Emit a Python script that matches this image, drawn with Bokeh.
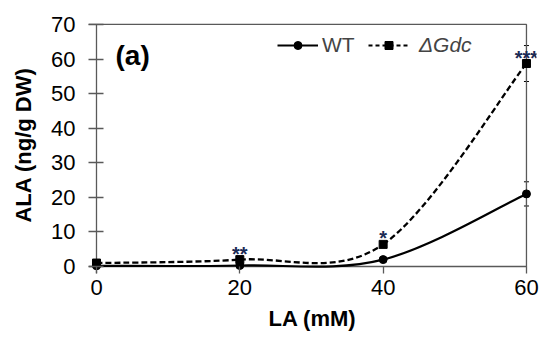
from bokeh.plotting import figure
from bokeh.models import (Range1d, FixedTicker, Legend, LegendItem, Label,
                          Whisker, ColumnDataSource, TeeHead)
from bokeh.core.properties import value
from bokeh.embed import file_html
from bokeh.resources import INLINE

# ---- data ----
la_mm = [0, 20, 40, 60]
wt_ala = [0.2, 0.3, 2.0, 21.0]
gdc_ala = [1.0, 2.0, 6.4, 58.7]
wt_err = [0.1, 0.1, 0.3, 3.5]
gdc_err = [0.3, 0.4, 0.8, 5.2]
sig_marks = ["", "**", "*", "***"]
x_ticks = [0, 20, 40, 60]
y_ticks = [0, 10, 20, 30, 40, 50, 60, 70]

FONT = "Liberation Sans"
X_START, X_END = -1.116, 61.4
Y_START, Y_END = -2.02, 72.3

p = figure(width=542, height=335, output_backend="svg", toolbar_location=None,
           x_range=Range1d(X_START, X_END), y_range=Range1d(Y_START, Y_END),
           min_border_left=88, min_border_right=6, min_border_top=16,
           min_border_bottom=62, outline_line_color=None,
           background_fill_color="white", border_fill_color="white")
p.grid.visible = False

AX = "#595959"
# axes
p.xaxis.ticker = FixedTicker(ticks=x_ticks)
p.yaxis.ticker = FixedTicker(ticks=y_ticks)
for ax in (p.xaxis[0], p.yaxis[0]):
    ax.axis_line_color = None
    ax.major_tick_out = 0
    ax.minor_tick_line_color = None
    ax.major_tick_line_color = AX
    ax.major_tick_line_width = 1.3
    ax.major_label_text_font = FONT
    ax.major_label_text_font_size = "22px"
    ax.major_label_text_color = "black"
    ax.axis_label_text_font = FONT
    ax.axis_label_text_font_style = "bold"
    ax.axis_label_text_color = "black"
p.xaxis.major_tick_in = 7
p.yaxis.major_tick_in = 15
p.xaxis.major_label_standoff = 6
p.yaxis.major_label_standoff = 13
p.xaxis.axis_label = "LA (mM)"
p.yaxis.axis_label = "ALA (ng/g DW)"
p.xaxis.axis_label_text_font_size = "22px"
p.yaxis.axis_label_text_font_size = "22px"
p.xaxis.axis_label_standoff = 8
p.yaxis.axis_label_standoff = 12

# frame lines: top, right, x-axis at y=0; y-axis at x=0
p.multi_line(xs=[[X_START, x_ticks[-1], x_ticks[-1], X_START], [0, 0]],
             ys=[[y_ticks[-1], y_ticks[-1], 0, 0], [y_ticks[-1], Y_START]],
             line_color=AX, line_width=1.3)

# smooth curves (Excel-like Bezier smoothing)
def bezier_ctrl(xs, ys):
    pts = list(zip(xs, ys))
    n = len(pts)
    out = dict(x0=[], y0=[], x1=[], y1=[], cx0=[], cy0=[], cx1=[], cy1=[])
    for i in range(n - 1):
        a = pts[i - 1] if i > 0 else pts[i]
        b = pts[i]
        c = pts[i + 1]
        d = pts[i + 2] if i + 2 < n else pts[i + 1]
        out["x0"].append(b[0]); out["y0"].append(b[1])
        out["x1"].append(c[0]); out["y1"].append(c[1])
        out["cx0"].append(b[0] + (c[0] - a[0]) / 6)
        out["cy0"].append(b[1] + (c[1] - a[1]) / 6)
        out["cx1"].append(c[0] - (d[0] - b[0]) / 6)
        out["cy1"].append(c[1] - (d[1] - b[1]) / 6)
    return out

p.bezier(source=ColumnDataSource(bezier_ctrl(la_mm, wt_ala)),
         x0="x0", y0="y0", x1="x1", y1="y1", cx0="cx0", cy0="cy0",
         cx1="cx1", cy1="cy1", line_color="black", line_width=2.2)
p.bezier(source=ColumnDataSource(bezier_ctrl(la_mm, gdc_ala)),
         x0="x0", y0="y0", x1="x1", y1="y1", cx0="cx0", cy0="cy0",
         cx1="cx1", cy1="cy1", line_color="black", line_width=2.3,
         line_dash="6 3")

src = ColumnDataSource(dict(
    x=la_mm, wt=wt_ala, gdc=gdc_ala,
    wt_lo=[v - e for v, e in zip(wt_ala, wt_err)],
    wt_hi=[v + e for v, e in zip(wt_ala, wt_err)],
    gdc_lo=[v - e for v, e in zip(gdc_ala, gdc_err)],
    gdc_hi=[v + e for v, e in zip(gdc_ala, gdc_err)],
    sig=sig_marks))

for lo, hi in (("wt_lo", "wt_hi"), ("gdc_lo", "gdc_hi")):
    w = Whisker(source=src, base="x", lower=lo, upper=hi, line_color="black",
                line_width=1,
                lower_head=TeeHead(size=5, line_color="black", line_width=1),
                upper_head=TeeHead(size=5, line_color="black", line_width=1))
    p.add_layout(w)

wt_pts = p.scatter("x", "wt", source=src, marker="circle", size=8,
                   color="black")
gdc_pts = p.scatter("x", "gdc", source=src, marker="square", size=8,
                    color="black")

p.text("x", "gdc", text="sig", source=src, text_align="center",
       text_baseline="middle", y_offset=-6, text_font=value(FONT),
       text_font_size="20px", text_font_style="bold", text_color="#1A2A55")

# legend-only line renderers (single point: nothing drawn in the plot)
wt_leg = p.line(x=la_mm[:1], y=wt_ala[:1], line_color="black",
                line_width=1.8)
gdc_leg = p.line(x=la_mm[:1], y=gdc_ala[:1], line_color="black",
                 line_width=1.8, line_dash="4 3")

def make_legend(item, loc, standoff, style):
    lg = Legend(items=[item], location=loc, orientation="horizontal",
                glyph_width=41, glyph_height=20, label_height=20,
                label_standoff=standoff, padding=0, margin=0, spacing=0,
                border_line_color=None, background_fill_alpha=0,
                label_text_font=FONT, label_text_font_size="21px",
                label_text_font_style=style)
    p.add_layout(lg, "center")

make_legend(LegendItem(label="WT", renderers=[wt_leg, wt_pts]),
            (189, 216), 4, "normal")
make_legend(LegendItem(label="ΔGdc", renderers=[gdc_leg, gdc_pts]),
            (280, 216), 10, "italic")

p.add_layout(Label(x=2.65, y=61.0, text="(a)", text_font=FONT,
                   text_font_size="28px", text_font_style="bold",
                   text_baseline="alphabetic", text_color="black"))

open("out.html", "w").write(file_html(p, INLINE))
